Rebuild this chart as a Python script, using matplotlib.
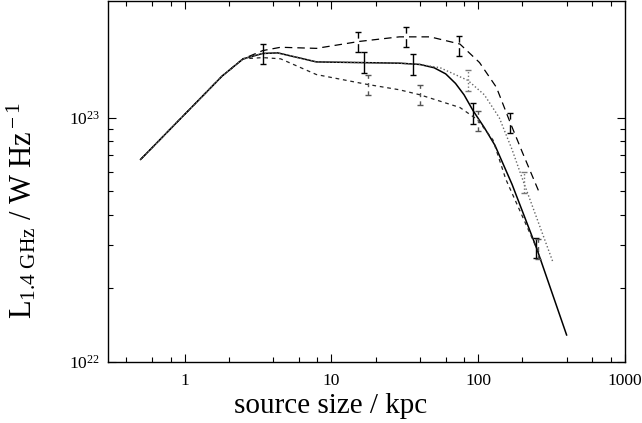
import matplotlib
matplotlib.use("Agg")
import matplotlib.pyplot as plt
import matplotlib.ticker as mticker
import numpy as np

plt.rcParams["font.family"] = "Liberation Serif"
plt.rcParams["mathtext.fontset"] = "custom"
plt.rcParams["mathtext.rm"] = "Liberation Serif"
plt.rcParams["mathtext.it"] = "Liberation Serif:italic"
plt.rcParams["mathtext.bf"] = "Liberation Serif:bold"

# model curves (source size in kpc, luminosity in W/Hz)
sol_x = [0.5, 1.8, 2.5, 3.4, 4.3, 7.9, 29, 40, 50, 60, 70, 80, 92, 110, 130, 170, 250, 400]
sol_y = [6.74e22, 1.48e23, 1.74e23, 1.83e23, 1.84e23, 1.69e23, 1.67e23, 1.65e23, 1.60e23,
         1.51e23, 1.38e23, 1.24e23, 1.07e23, 9.1e22, 7.7e22, 5.33e22, 2.92e22, 1.29e22]

lda_x = [0.5, 1.8, 2.5, 3.4, 4.5, 7.9, 15.5, 29, 47, 75, 102, 133, 165, 200, 260]
lda_y = [6.74e22, 1.48e23, 1.74e23, 1.88e23, 1.94e23, 1.92e23, 2.05e23, 2.14e23,
         2.14e23, 2.0e23, 1.68e23, 1.33e23, 9.55e22, 7.2e22, 4.95e22]

sda_x = [0.5, 1.8, 2.5, 3.4, 4.5, 7.9, 17.2, 29, 40, 75, 99, 126, 154, 250, 260]
sda_y = [6.74e22, 1.48e23, 1.74e23, 1.76e23, 1.74e23, 1.50e23, 1.37e23, 1.30e23,
         1.24e23, 1.10e23, 9.8e22, 8.1e22, 5.6e22, 2.92e22, 2.8e22]

dot_x = [0.5, 1.8, 2.5, 3.4, 4.3, 7.9, 29, 40, 55, 85, 110, 139, 170, 204, 323]
dot_y = [6.74e22, 1.48e23, 1.74e23, 1.83e23, 1.84e23, 1.69e23, 1.67e23, 1.65e23,
         1.60e23, 1.42e23, 1.24e23, 1.0e23, 7.4e22, 5.43e22, 2.56e22]

# error bars (simulation snapshots)
sol_ex = [3.4, 16.6, 35.8, 91.8, 248]
sol_ey = [1.82e23, 1.68e23, 1.65e23, 1.04e23, 2.93e22]
lda_ex = [15.1, 32, 73.5, 165]
lda_ey = [2.04e23, 2.13e23, 1.97e23, 9.5e22]
sda_ex = [17.7, 40, 99.5, 255]
sda_ey = [1.36e23, 1.24e23, 9.7e22, 2.9e22]
dot_ex = [85, 206]
dot_ey = [1.42e23, 5.43e22]
err_fac = 1.10  # multiplicative error


def yerr(vals):
    v = np.array(vals)
    return [v - v / err_fac, v * err_fac - v]


fig = plt.figure(figsize=(6.42, 4.23), dpi=100)
ax = fig.add_axes([108 / 642, 61 / 423, 517 / 642, 361 / 423])

series = [
    (sol_x, sol_y, sol_ex, sol_ey, "black", (None,), 1.1, "black"),
    (lda_x, lda_y, lda_ex, lda_ey, "black", (6, 4), 0.9, "black"),
    (sda_x, sda_y, sda_ex, sda_ey, "#222222", (3, 3), 0.9, "#555555"),
    (dot_x, dot_y, dot_ex, dot_ey, "#666666", (1, 1.6), 1.0, "#777777"),
]

for x, y, ex, ey, col, dash, lw, ecol in series:
    line, = ax.plot(x, y, color=col, lw=lw)
    if dash[0] is not None:
        line.set_dashes(dash)
    _, caps, bars = ax.errorbar(ex, ey, yerr=yerr(ey), fmt="none", ecolor=ecol,
                                elinewidth=1.0, capsize=2.5, capthick=1.0)
    if dash[0] is not None:
        for b in bars:
            b.set_linestyle((0, dash))

ax.set_xscale("log")
ax.set_yscale("log")
ax.set_xlim(0.3, 1000)
ax.set_ylim(1e22, 3e23)

ax.xaxis.set_major_locator(mticker.FixedLocator([1, 10, 100, 1000]))
ax.xaxis.set_major_formatter(mticker.FixedFormatter(["1", "10", "100", "1000"]))
xminor = [m * 10.0 ** e for e in range(-1, 3) for m in (2, 4, 6, 8)]
ax.xaxis.set_minor_locator(mticker.FixedLocator([v for v in xminor if v > 0.3]))
ax.xaxis.set_minor_formatter(mticker.NullFormatter())

ax.yaxis.set_major_locator(mticker.FixedLocator([1e22, 1e23]))
ax.yaxis.set_major_formatter(mticker.FixedFormatter([r"$10^{22}$", r"$10^{23}$"]))
ax.yaxis.set_minor_locator(mticker.FixedLocator([m * 1e22 for m in range(2, 10)]))
ax.yaxis.set_minor_formatter(mticker.NullFormatter())

ax.tick_params(which="both", direction="in", top=True, right=True,
               labelsize=12.5, width=0.8, colors="black")
ax.tick_params(which="major", length=6)
ax.tick_params(which="minor", length=3.5)
ax.tick_params(axis="x", which="major", pad=8)
ax.tick_params(axis="y", which="major", pad=6)
for sp in ax.spines.values():
    sp.set_linewidth(1.0)

ax.set_xlabel("source size / kpc", fontsize=21)
ax.xaxis.set_label_coords(0.43, -0.087)
ax.set_ylabel(r"L$_{\rm 1.4\ GHz}$ / W Hz$^{\rm -1}$", fontsize=22)
ax.yaxis.set_label_coords(-0.135, 0.42)

fig.savefig("out.png", dpi=100)
